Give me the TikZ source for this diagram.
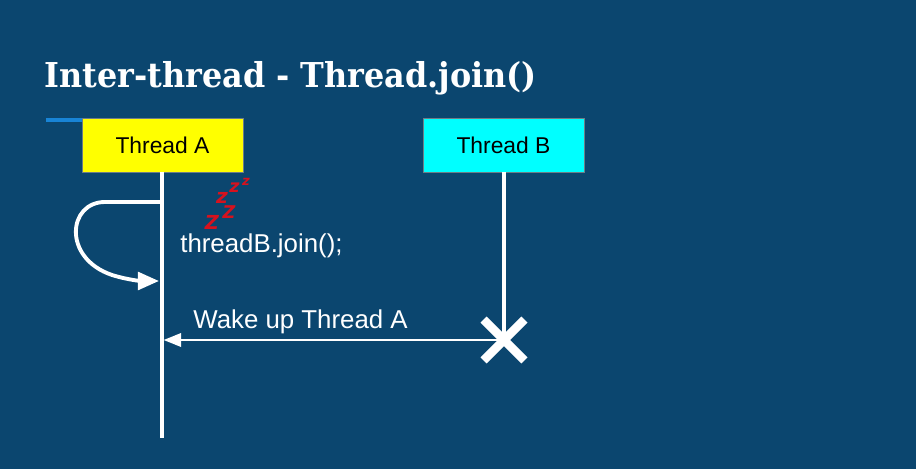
\documentclass[tikz,border=0pt]{standalone}
\usepackage{fontspec}
\setmainfont{Liberation Sans}
\newfontfamily\slabfont[FakeStretch=0.93]{DejaVu Serif}
\newfontfamily\snorefont{DejaVu Sans}
\usetikzlibrary{arrows.meta,shapes.misc}
\definecolor{bgblue}{RGB}{11,70,111}
\definecolor{accent}{RGB}{24,132,214}
\definecolor{zred}{RGB}{214,18,30}
\definecolor{boxline}{RGB}{110,125,135}
\definecolor{hdryellow}{RGB}{255,255,0}
\definecolor{hdrcyan}{RGB}{0,255,255}
\tikzset{
  threadbox/.style={draw=boxline, line width=0.4pt, minimum width=161*0.02cm,
    minimum height=54*0.02cm, inner sep=0pt, font=\fontsize{13}{15}\selectfont, text=black},
  lifeline/.style={draw=white, line width=2pt},
  msg/.style={draw=white, line width=1.6pt, -{Triangle[length=10pt,width=7.5pt]}},
  loop/.style={draw=white, line width=2.2pt, -{Triangle[length=12pt,width=10pt]}},
  label/.style={text=white, inner sep=0pt, font=\fontsize{14.7}{17}\selectfont},
  snore/.style={text=zred, inner sep=0pt},
}
\begin{document}
\begin{tikzpicture}[x=0.02cm, y=-0.02cm]
  % page and background
  \fill[bgblue] (0,0) rectangle (916,469);
  \useasboundingbox (0,0) rectangle (916,469);

  % title and accent bar
  \node[anchor=base west, inner sep=0pt, text=white,
        font=\slabfont\bfseries\fontsize{19.5}{23}\selectfont] (title) at (44,88)
        {Inter-thread - Thread.join()};
  \draw[accent, line width=2.2pt] (46,120) coordinate (barL) -- (83,120) coordinate (barR);

  % thread headers
  \node[threadbox, fill=hdryellow] (ta) at (162.5,145) {Thread A};
  \node[threadbox, fill=hdrcyan] (tb) at (503.5,145) {Thread B};

  % lifelines
  \coordinate (aend) at (162,438);
  \coordinate (bend) at (504,338);
  \draw[lifeline] (ta.south -| aend) -- (aend);
  \draw[lifeline] (tb.south -| bend) -- (bend);

  % end of thread B
  \node[cross out, draw=white, line width=5pt, minimum size=32*0.02cm,
        inner sep=0pt] (xb) at (504,340) {};

  % join: thread A waits on itself
  \coordinate (loopS) at (161,202);
  \coordinate (loopE) at (159,281);
  \draw[loop] (loopS) -- (105,202)
     .. controls (68,202) and (62,258) .. (112,275)
     .. controls (128,280) and (142,281) .. (loopE);
  \node[label, anchor=base west] (join) at (180,253) {threadB.join();};

  % sleeping marks
  \node[snore, font=\snorefont\bfseries\itshape\fontsize{11}{11}\selectfont] (z1) at (212,222) {Z};
  \node[snore, font=\snorefont\bfseries\itshape\fontsize{10}{10}\selectfont] (z2) at (229,212.5) {Z};
  \node[snore, font=\snorefont\bfseries\itshape\fontsize{11.5}{11}\selectfont] (z3) at (222,198) {z};
  \node[snore, font=\snorefont\bfseries\itshape\fontsize{10}{10}\selectfont] (z4) at (234.5,188) {z};
  \node[snore, font=\snorefont\bfseries\itshape\fontsize{7.5}{8}\selectfont] (z5) at (246,181.5) {z};

  % wake-up message
  \coordinate (wake) at (163.5,340);
  \draw[msg] (xb.center) -- (wake);
  \node[label, anchor=base west] (wakeLbl) at (193,329) {Wake up Thread A};
\end{tikzpicture}
\end{document}
